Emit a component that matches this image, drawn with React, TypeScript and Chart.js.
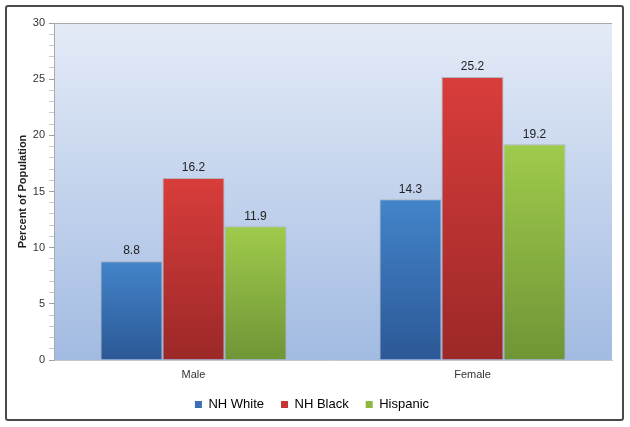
import { useEffect, useRef } from 'react'
import { Chart, registerables } from 'chart.js'

Chart.register(...registerables)

const categories = ['Male', 'Female']
const seriesNames = ['NH White', 'NH Black', 'Hispanic']
const nhWhite = [8.8, 14.3]
const nhBlack = [16.2, 25.2]
const hispanic = [11.9, 19.2]
const yTicks = [0, 5, 10, 15, 20, 25, 30]

const FONT = '"Liberation Sans", Arial, sans-serif'

// top / bottom shade of each bar, plus the legend swatch
const shades = [
  { top: '#4384ca', bottom: '#2c5896', swatch: '#3a6fb5' },
  { top: '#d83d3b', bottom: '#9c2828', swatch: '#c73634' },
  { top: '#9fcb4c', bottom: '#6f9536', swatch: '#8db843' },
]

const barFill = (idx: number) => (context: any) => {
  const chart = context.chart
  const area = chart.chartArea
  const y = chart.scales?.y
  if (!area || !y || context.parsed == null) return shades[idx].top
  const top = y.getPixelForValue(context.parsed.y)
  const bottom = y.getPixelForValue(0)
  const g = chart.ctx.createLinearGradient(0, top, 0, bottom)
  g.addColorStop(0, shades[idx].top)
  g.addColorStop(1, shades[idx].bottom)
  return g
}

const plotBackground = {
  id: 'plotBackground',
  beforeDraw(chart: any) {
    const { ctx, chartArea: a } = chart
    const g = ctx.createLinearGradient(0, a.top, 0, a.bottom)
    g.addColorStop(0, '#e4ebf7')
    g.addColorStop(1, '#a2bbe2')
    ctx.save()
    ctx.fillStyle = g
    ctx.fillRect(a.left, a.top, a.right - a.left, a.bottom - a.top)
    ctx.strokeStyle = '#a9a9a9'
    ctx.lineWidth = 1
    ctx.beginPath()
    ctx.moveTo(a.left, a.top + 0.5)
    ctx.lineTo(a.right, a.top + 0.5)
    ctx.stroke()
    ctx.restore()
  },
}

const valueLabels = {
  id: 'valueLabels',
  afterDatasetsDraw(chart: any) {
    const { ctx } = chart
    ctx.save()
    ctx.font = `12px ${FONT}`
    ctx.fillStyle = '#222222'
    ctx.textAlign = 'center'
    ctx.textBaseline = 'bottom'
    chart.data.datasets.forEach((ds: any, i: number) => {
      chart.getDatasetMeta(i).data.forEach((bar: any, j: number) => {
        ctx.fillText(ds.data[j].toFixed(1), bar.x, bar.y - 4)
      })
    })
    ctx.restore()
  },
}

export default function App() {
  const canvasRef = useRef<HTMLCanvasElement>(null)

  useEffect(() => {
    document.body.style.margin = '0'
    if (!canvasRef.current) return
    const series = [nhWhite, nhBlack, hispanic]

    const chart = new Chart(canvasRef.current, {
      type: 'bar',
      data: {
        labels: categories,
        datasets: series.map((data, i) => ({
          label: seriesNames[i],
          data,
          backgroundColor: barFill(i),
          borderColor: 'rgba(170,170,170,0.8)',
          borderWidth: 1,
          categoryPercentage: 0.667,
          barPercentage: 1,
        })),
      },
      options: {
        animation: false,
        responsive: false,
        maintainAspectRatio: false,
        layout: { padding: { left: 12, right: 18, top: 23, bottom: 6 } },
        plugins: {
          tooltip: { enabled: false },
          legend: {
            position: 'bottom',
            labels: {
              font: { family: FONT, size: 13 },
              color: '#222222',
              boxWidth: 7,
              boxHeight: 7,
              padding: 17,
              generateLabels: () =>
                seriesNames.map((name, i) => ({
                  text: name,
                  fillStyle: shades[i].swatch,
                  strokeStyle: shades[i].swatch,
                  lineWidth: 0,
                  datasetIndex: i,
                  hidden: false,
                })),
            },
          },
        },
        scales: {
          x: {
            grid: { display: false, drawTicks: false },
            border: { color: '#c8c8c8' },
            ticks: { font: { family: FONT, size: 11 }, color: '#333333', padding: 8 },
            afterFit: (scale: any) => { scale.height = 21 },
          },
          y: {
            min: 0,
            max: 30,
            title: {
              display: true,
              text: 'Percent of Population',
              font: { family: FONT, size: 11, weight: 'bold' },
              color: '#222222',
            },
            border: { color: '#a9a9a9' },
            grid: {
              drawOnChartArea: false,
              tickLength: 5,
              tickColor: (ctx: any) => (ctx.tick && ctx.tick.value % 5 === 0 ? '#a0a0a0' : '#c8c8c8'),
            },
            ticks: {
              stepSize: 1,
              autoSkip: false,
              font: { family: FONT, size: 11 },
              color: '#333333',
              padding: 4,
              callback: (v: any) => (yTicks.includes(Number(v)) ? String(v) : ''),
            },
            afterFit: (scale: any) => { scale.width = 42 },
          },
        },
      },
      plugins: [plotBackground, valueLabels],
    })

    return () => chart.destroy()
  }, [])

  return (
    <div style={{ position: 'relative', width: 630, height: 427, background: '#fff' }}>
      <canvas ref={canvasRef} width={630} height={427} style={{ display: 'block' }} />
      <div
        style={{
          position: 'absolute',
          left: 5,
          top: 5,
          width: 615,
          height: 412,
          border: '2px solid #4a4a4a',
          borderRadius: 3,
          pointerEvents: 'none',
        }}
      />
    </div>
  )
}
